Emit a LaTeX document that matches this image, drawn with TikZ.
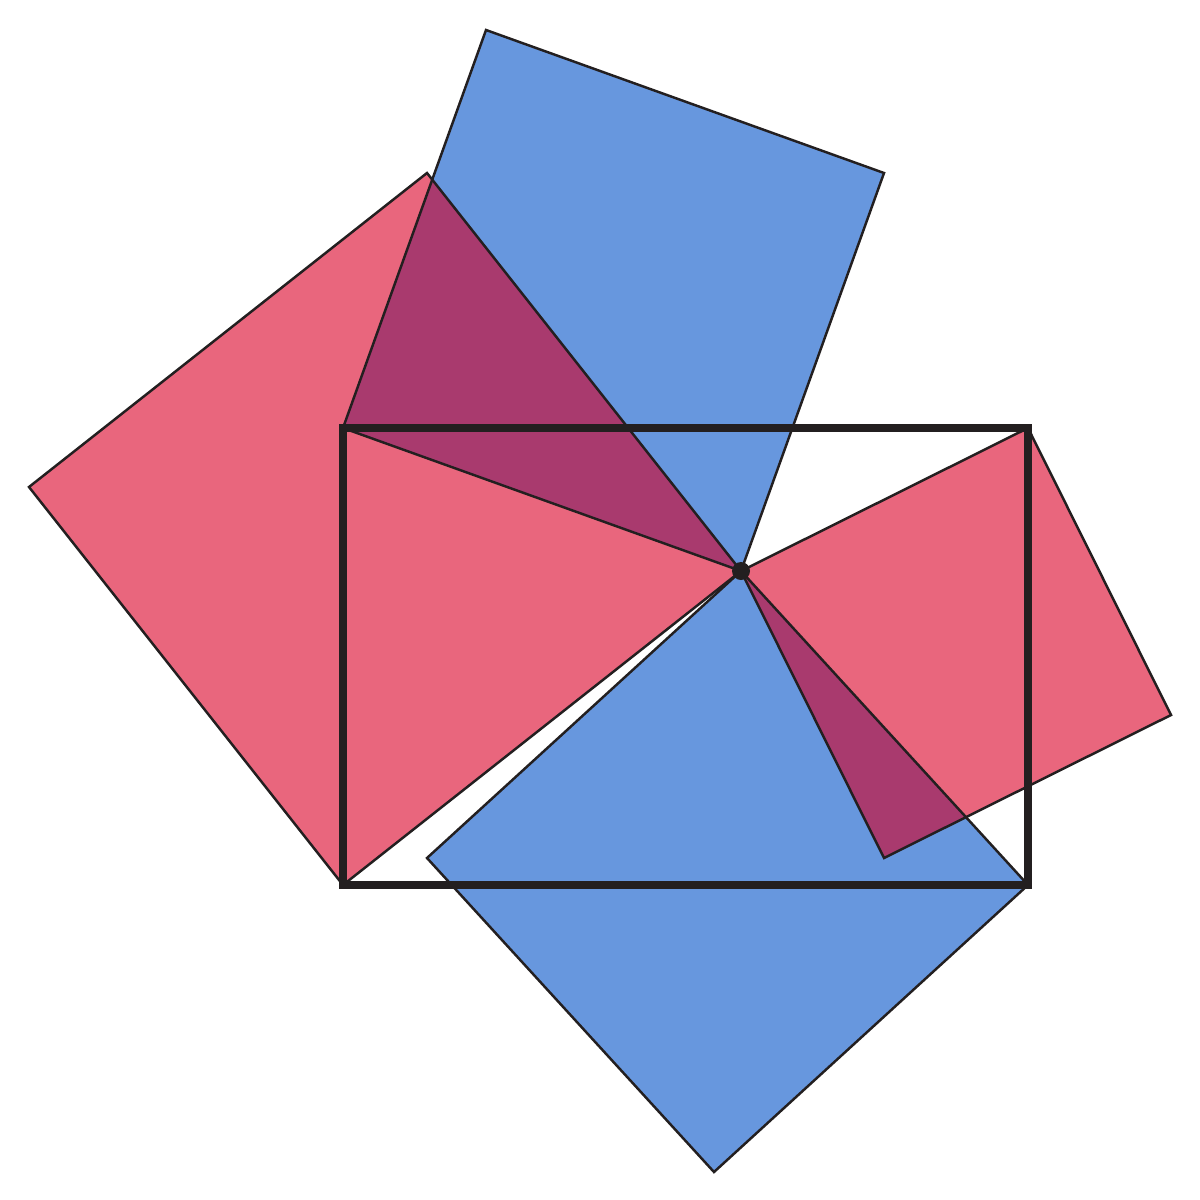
\documentclass[tikz,border=0pt]{standalone}
\begin{document}
\begin{tikzpicture}[x=0.01cm,y=-0.01cm,
  redsq/.style={fill=sqred},
  bluesq/.style={fill=sqblue},
  edge/.style={draw=ink,line width=0.7pt,line join=miter},
  frame/.style={draw=ink,line width=2.4pt,line join=miter}]
\definecolor{sqred}{HTML}{E9667D}
\definecolor{sqblue}{HTML}{6797DE}
\definecolor{sqpurple}{HTML}{A93A6E}
\definecolor{ink}{HTML}{231F20}
\useasboundingbox (0,0) rectangle (1200,1200);
\fill[white] (0,0) rectangle (1200,1200);
% corners and centre point
\coordinate (P) at (741,571);
\coordinate (TL) at (343,428);
\coordinate (TR) at (1028,428);
\coordinate (BR) at (1028,885);
\coordinate (BL) at (343,885);
% outer vertices of squares
\coordinate (L1) at (29,487);
\coordinate (L2) at (427,173);
\coordinate (T1) at (486,30);
\coordinate (T2) at (884,173);
\coordinate (R1) at (1171,715);
\coordinate (R2) at (884,858);
\coordinate (B1) at (714,1172);
\coordinate (B2) at (427,858);
% fills
\fill[redsq] (P) -- (BL) -- (L1) -- (L2) -- cycle;
\fill[redsq] (P) -- (TR) -- (R1) -- (R2) -- cycle;
\fill[bluesq] (P) -- (TL) -- (T1) -- (T2) -- cycle;
\fill[bluesq] (P) -- (BR) -- (B1) -- (B2) -- cycle;
% overlaps
\begin{scope}
  \clip (P) -- (BL) -- (L1) -- (L2) -- cycle;
  \fill[sqpurple] (P) -- (TL) -- (T1) -- (T2) -- cycle;
\end{scope}
\begin{scope}
  \clip (P) -- (TR) -- (R1) -- (R2) -- cycle;
  \fill[sqpurple] (P) -- (BR) -- (B1) -- (B2) -- cycle;
\end{scope}
% outlines
\draw[edge] (P) -- (BL) -- (L1) -- (L2) -- cycle;
\draw[edge] (P) -- (TR) -- (R1) -- (R2) -- cycle;
\draw[edge] (P) -- (TL) -- (T1) -- (T2) -- cycle;
\draw[edge] (P) -- (BR) -- (B1) -- (B2) -- cycle;
% rectangle
\draw[frame] (TL) -- (TR) -- (BR) -- (BL) -- cycle;
% centre dot
\fill[ink] (P) circle[radius=9];
\end{tikzpicture}
\end{document}
